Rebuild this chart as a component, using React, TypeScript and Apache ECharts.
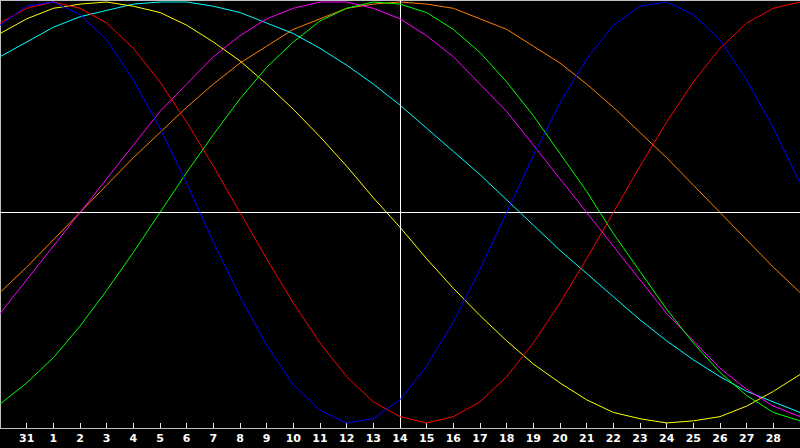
import { useEffect, useRef } from 'react';
import * as echarts from 'echarts';

// days shown on the axis; first and last sit on the edges and get no label
const days = [
  '30', '31', '1', '2', '3', '4', '5', '6', '7', '8', '9', '10', '11', '12', '13', '14',
  '15', '16', '17', '18', '19', '20', '21', '22', '23', '24', '25', '26', '27', '28', '1',
];

const physical = [
  0.89, 0.98, 1.0, 0.94, 0.82, 0.63, 0.4, 0.14, -0.14, -0.4, -0.63, -0.82, -0.94, -1.0, -0.98, -0.89,
  -0.73, -0.52, -0.27, 0, 0.27, 0.52, 0.73, 0.89, 0.98, 1.0, 0.94, 0.82, 0.63, 0.4, 0.14,
];
const emotional = [
  0.9, 0.97, 1.0, 0.97, 0.9, 0.78, 0.62, 0.43, 0.22, 0, -0.22, -0.43, -0.62, -0.78, -0.9, -0.97,
  -1.0, -0.97, -0.9, -0.78, -0.62, -0.43, -0.22, 0, 0.22, 0.43, 0.62, 0.78, 0.9, 0.97, 1.0,
];
const intellectual = [
  -0.91, -0.81, -0.69, -0.54, -0.37, -0.19, 0, 0.19, 0.37, 0.54, 0.69, 0.81, 0.91, 0.97, 1.0, 0.99,
  0.95, 0.87, 0.76, 0.62, 0.46, 0.28, 0.1, -0.1, -0.28, -0.46, -0.62, -0.76, -0.87, -0.95, -0.99,
];
const intuitive = [
  -0.48, -0.32, -0.16, 0, 0.16, 0.32, 0.48, 0.61, 0.74, 0.84, 0.92, 0.97, 1.0, 1.0, 0.97, 0.92,
  0.84, 0.74, 0.61, 0.48, 0.32, 0.16, 0, -0.16, -0.32, -0.48, -0.61, -0.74, -0.84, -0.92, -0.97,
];
const aesthetic = [
  0.85, 0.92, 0.97, 0.99, 1.0, 0.98, 0.95, 0.89, 0.81, 0.72, 0.61, 0.49, 0.36, 0.22, 0.07, -0.07,
  -0.22, -0.36, -0.49, -0.61, -0.72, -0.81, -0.89, -0.95, -0.98, -1.0, -0.99, -0.97, -0.92, -0.85, -0.77,
];
const awareness = [
  -0.38, -0.26, -0.13, 0, 0.13, 0.26, 0.38, 0.5, 0.61, 0.71, 0.79, 0.87, 0.92, 0.97, 0.99, 1.0,
  0.99, 0.97, 0.92, 0.87, 0.79, 0.71, 0.61, 0.5, 0.38, 0.26, 0.13, 0, -0.13, -0.26, -0.38,
];
const spiritual = [
  0.74, 0.81, 0.88, 0.93, 0.96, 0.99, 1.0, 1.0, 0.98, 0.95, 0.9, 0.85, 0.78, 0.7, 0.61, 0.51,
  0.4, 0.29, 0.18, 0.06, -0.06, -0.18, -0.29, -0.4, -0.51, -0.61, -0.7, -0.78, -0.85, -0.9, -0.95,
];

const today = '14';

const cycles = [
  { name: 'Awareness', data: awareness, color: '#ff8000' },
  { name: 'Spiritual', data: spiritual, color: '#00ffff' },
  { name: 'Aesthetic', data: aesthetic, color: '#ffff00' },
  { name: 'Intuitive', data: intuitive, color: '#ff00ff' },
  { name: 'Intellectual', data: intellectual, color: '#00ff00' },
  { name: 'Emotional', data: emotional, color: '#ff0000' },
  { name: 'Physical', data: physical, color: '#0000ff' },
];

const BORDER = '#c0c0c0';

function App() {
  const chartRef = useRef<HTMLDivElement>(null);

  useEffect(() => {
    if (!chartRef.current) return;
    const chart = echarts.init(chartRef.current, undefined, { renderer: 'svg' });
    const last = days.length - 1;

    const series: any[] = cycles.map((c, idx) => ({
      name: c.name,
      type: 'line',
      data: c.data,
      showSymbol: false,
      symbol: 'none',
      lineStyle: { color: c.color, width: 1 },
      itemStyle: { color: c.color },
      z: 2 + idx,
      markLine:
        idx === cycles.length - 1
          ? {
              silent: true,
              symbol: 'none',
              label: { show: false },
              lineStyle: { color: '#ffffff', width: 1, type: 'solid' },
              data: [{ xAxis: today }, { yAxis: 0 }],
            }
          : undefined,
    }));

    chart.setOption({
      animation: false,
      backgroundColor: '#000000',
      grid: { left: 0, right: 0, top: 0, bottom: 20 },
      xAxis: [
        {
          type: 'category',
          data: days,
          boundaryGap: false,
          axisLine: { onZero: false, lineStyle: { color: BORDER, width: 1 } },
          axisTick: {
            inside: true,
            length: 5,
            interval: (i: number) => i > 0 && i < last,
            lineStyle: { color: '#e8e8e8' },
          },
          axisLabel: {
            interval: (i: number) => i > 0 && i < last,
            color: '#ffffff',
            fontWeight: 'bold',
            fontSize: 11,
            fontFamily: 'DejaVu Sans',
            margin: 5,
          },
          splitLine: { show: false },
        },
        {
          type: 'category',
          data: days,
          position: 'top',
          boundaryGap: false,
          axisLine: { onZero: false, lineStyle: { color: BORDER, width: 1 } },
          axisTick: { show: false },
          axisLabel: { show: false },
          splitLine: { show: false },
        },
      ],
      yAxis: {
        type: 'value',
        min: -1.024,
        max: 1.0095,
        axisLine: { show: true, onZero: false, lineStyle: { color: BORDER, width: 1 } },
        axisTick: { show: false },
        axisLabel: { show: false },
        splitLine: { show: false },
      },
      series,
    });

    return () => {
      chart.dispose();
    };
  }, []);

  return (
    <div
      ref={chartRef}
      style={{ position: 'fixed', left: 0, top: 0, width: 800, height: 448, background: '#000' }}
    />
  );
}

export default App;
